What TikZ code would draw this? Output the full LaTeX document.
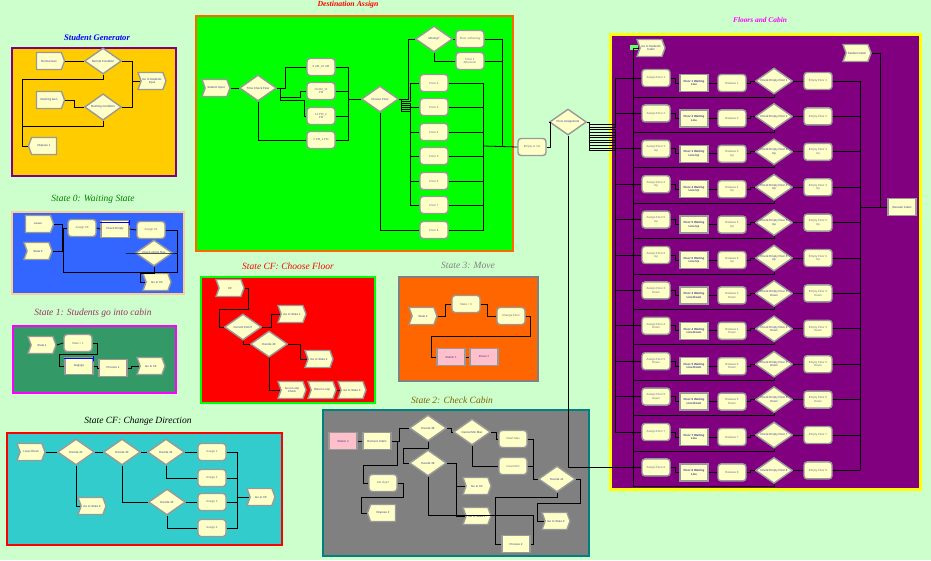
\documentclass[tikz,border=0pt]{standalone}
\usepackage{fontspec}
\usepackage{xcolor}
\newfontfamily\modfont{Liberation Sans}
\newfontfamily\titlefont{Liberation Serif}
\usetikzlibrary{shapes.geometric, shapes.symbols, arrows.meta, positioning}
\definecolor{bgfill}{HTML}{CCFFCC}
\definecolor{modfill}{HTML}{FFFFC8}
\definecolor{modedge}{HTML}{999999}
\definecolor{modtext}{HTML}{3A3A9A}
\definecolor{asgtext}{HTML}{6A6A8A}
\definecolor{pinkfill}{HTML}{FFC0CB}
\definecolor{sgfill}{HTML}{FFCC00}
\definecolor{sgedge}{HTML}{800080}
\definecolor{dafill}{HTML}{00FF00}
\definecolor{daedge}{HTML}{FF6600}
\definecolor{fcfill}{HTML}{800080}
\definecolor{fcedge}{HTML}{FFFF00}
\definecolor{fctitle}{HTML}{FF00FF}
\definecolor{s0fill}{HTML}{3366FF}
\definecolor{s0edge}{HTML}{FFCC99}
\definecolor{s1fill}{HTML}{339966}
\definecolor{s1edge}{HTML}{FF00FF}
\definecolor{cffill}{HTML}{FF0000}
\definecolor{cfedge}{HTML}{00FF00}
\definecolor{s3fill}{HTML}{FF6600}
\definecolor{s3edge}{HTML}{808080}
\definecolor{s2fill}{HTML}{808080}
\definecolor{s2edge}{HTML}{008080}
\definecolor{cdfill}{HTML}{33CCCC}
\definecolor{cdedge}{HTML}{FF0000}
\newcommand{\modsize}{\modfont\fontsize{2.9}{3.3}\selectfont}
\tikzstyle{module} = [draw=modedge, line width=1.4pt, fill=modfill, text=modtext,
  font=\modsize, align=center, inner sep=0.5pt, minimum width=28, minimum height=17]
\tikzstyle{create} = [module, signal, signal to=east, signal pointer angle=140]
\tikzstyle{route} = [module, signal, signal from=west, signal to=east, signal pointer angle=140]
\tikzstyle{dispose} = [module, signal, signal to=west, signal pointer angle=140]
\tikzstyle{assign} = [module, rounded corners=3pt, text=asgtext]
\tikzstyle{process} = [module, rectangle]
\tikzstyle{waitbox} = [module, rectangle, font=\modsize\bfseries]
\tikzstyle{pinkbox} = [module, rectangle, fill=pinkfill]
\tikzstyle{decide} = [module, diamond, minimum width=37, minimum height=26, inner sep=0]
\tikzstyle{queue} = [draw=blue, line width=0.8pt]
\tikzstyle{conn} = [line width=0.8pt]
\tikzstyle{panel} = [line width=2pt]
\tikzstyle{title} = [font=\titlefont\itshape\fontsize{9.5}{10}\selectfont]

\begin{document}
\begin{tikzpicture}[x=1pt, y=-1pt]
\fill[bgfill] (0,0) rectangle (931,560);
\useasboundingbox (0,0) rectangle (931,560);

% panels
\draw[panel, draw=sgedge, fill=sgfill] (12,48) rectangle (176,176);
\draw[panel, draw=daedge, fill=dafill] (196,16) rectangle (513,251);
\draw[panel, line width=3pt, draw=fcedge, fill=fcfill] (610,34) rectangle (920,489);
\draw[panel, draw=s0edge, fill=s0fill] (12,212) rectangle (184,294);
\draw[panel, draw=s1edge, fill=s1fill] (13,326) rectangle (176,393);
\draw[panel, draw=cfedge, fill=cffill] (201,277) rectangle (375,403);
\draw[panel, draw=s3edge, fill=s3fill] (399,277) rectangle (538,381);
\draw[panel, draw=s2edge, fill=s2fill] (323,410) rectangle (589,556);
\draw[panel, draw=cdedge, fill=cdfill] (7,433) rectangle (282,545);

% titles
\node[title, text=blue, font=\titlefont\itshape\bfseries\fontsize{8.6}{9}\selectfont] (tgen) at (97,38) {Student Generator};
\node[title, text=red, font=\titlefont\itshape\bfseries\fontsize{7.8}{8}\selectfont] (tdest) at (348,5) {Destination Assign};
\node[title, text=fctitle, font=\titlefont\itshape\bfseries\fontsize{7.4}{8}\selectfont] (tfloor) at (760,20) {Floors and Cabin};
\node[title, text=green!50!black] (tst0) at (93,199) {State 0: Waiting State};
\node[title, text={rgb,255:red,153;green,51;blue,102}] (tst1) at (93,313) {State 1: Students go into cabin};
\node[title, text=red] (tcf) at (288,266) {State CF: Choose Floor};
\node[title, text=gray] (tst3) at (468,265) {State 3: Move};
\node[title, text={rgb,255:red,128;green,96;blue,0}] (tst2) at (452,400) {State 2: Check Cabin};
\node[title, text=black] (tdir) at (138,421) {State CF: Change Direction};

% Student Generator
\node[create] (gen1) at (49,61) {Normal Gen};
\node[create] (gen2) at (49,100) {Rushing Gen};
\node[decide] (cond1) at (103,61) {Normal Condition};
\node[decide] (cond2) at (103,107) {Rushing Condition};
\node[route] (toinput) at (152,81) {Go to Students\\Input};
\node[dispose] (disp1) at (44,146) {Dispose 1};
\draw[conn] (gen1.east) -- (cond1.west);
\draw[conn] (gen2.east) -- ++(9,0) |- (cond2.west);
\draw[conn] (cond1.east) -- (132,61) |- (toinput.west);
\draw[conn] (cond2.east) -- (132,107) |- (toinput.west);
\draw[conn] (cond1.south) |- (22,79) |- (disp1.west);
\draw[conn] (cond2.south) |- (22,126);

% Destination Assign
\node[route] (sinput) at (216,88) {Student Input};
\node[decide] (timechk) at (258,88) {Time Check Flow};
\node[assign] (t1) at (321,67) {8 AM\_10 AM};
\node[assign] (t2) at (321,91) {10 AM\_12\\PM};
\node[assign] (t3) at (321,116) {12 PM\_2\\PM};
\node[assign] (t4) at (321,140) {2 PM\_4 PM};
\node[decide] (choose) at (380,99) {Choose Floor};
\node[decide] (moving) at (434,39) {Moving?};
\node[assign] (f1m) at (470,39) {Floor 1 Morning};
\node[assign] (f1a) at (470,61) {Floor 1\\Afternoon};
\foreach \i/\y in {2/83, 3/107, 4/132, 5/156, 6/181, 7/205, 8/230}
  \node[assign] (f\i) at (434,\y) {Floor \i};
\node[assign] (empty) at (532,147) {Empty or not};
\node[decide] (fassign) at (568,122) {Floor Assignment};
\draw[conn] (sinput.east) -- (timechk.west);
\draw[conn] (timechk.east) -- (285,88) |- (t1.west);
\draw[conn] (timechk.east) -- ++(3,0) |- (300,97) |- (t2.west);
\draw[conn] (timechk.east) -- ++(3,0) |- (304,100) |- (t3.west);
\draw[conn] (timechk.south) |- (t4.west);
\foreach \t in {t1,t2,t3,t4}
  \draw[conn] (\t.east) -| (348,99);
\draw[conn] (348,99) -- (choose.west);
\draw[conn] (choose.east) -- (408,99) |- (moving.west);
\foreach \i in {2,...,7}
  \draw[conn] (choose.east) -- (401,99) |- (410,97+2*\i) |- (f\i.west);
\draw[conn] (choose.south) |- (f8.west);
\draw[conn] (moving.east) -- (f1m.west);
\draw[conn] (moving.south) |- (f1a.west);
\foreach \i in {2,...,8}
  \draw[conn] (f\i.east) -| (483,146);
\draw[conn] (f1m.east) -| (502,146);
\draw[conn] (f1a.east) -- (502,61);
\draw[conn] (483,146) -- (empty.west);
\draw[conn] (empty.east) -- (550,147) |- (fassign.west);

% Floors and Cabin
\node[route] (tocabin) at (651,48) {Go to Students\\Cabin};
\fill[green!60] (630,45) rectangle (638,50);
\node[route] (stcabin) at (857,53) {Student Cabin};
\node[process] (elevator) at (902,207) {Elevator Cabin};
\foreach \i/\n/\lab/\lname in {1/1/1/Line, 2/2/2/Line, 3/3/{3\\Up}/{Line Up}, 4/4/{4\\Up}/{Line Up},
    5/5/{5\\Up}/{Line Up}, 6/6/{6\\Up}/{Line Up}, 7/3/{3\\Down}/{Line Down}, 8/4/{4\\Down}/{Line Down},
    9/5/{5\\Down}/{Line Down}, 10/6/{6\\Down}/{Line Down}, 11/7/7/Line, 12/8/8/Line} {
  \pgfmathsetmacro\c{78+35.4*(\i-1)}
  \node[assign] (a\i) at (656,\c) {Assign Floor \lab};
  \node[waitbox] (w\i) at (694,\c+5) {Floor \n{} Waiting\\\lname};
  \node[assign] (r\i) at (732,\c+5) {Release \lab};
  \node[decide, inner sep=-3pt] (d\i) at (774,\c+3) {Check Empty Floor \lab};
  \node[assign] (e\i) at (818,\c+3) {Empty Floor \lab};
  \draw[conn] (a\i.east) -- ++(5,0) |- (w\i.west);
  \draw[conn] (w\i.east) -- (r\i.west);
  \draw[conn] (r\i.east) -- ++(4,0) |- (d\i.west);
  \draw[conn] (d\i.east) -- (e\i.west);
  \draw[conn] (e\i.east) -- (860,\c+3);
  \draw[conn] (d\i.south) |- (633,\c+19);
}
\foreach \i in {1,...,11}
  \draw[conn] (fassign.east) -- (589,122) |- (615,122+2.6*\i) |- (a\i.west);
\draw[conn] (fassign.south) |- (a12.west);
\draw[conn] (tocabin.west) -| (633,486);
\draw[conn] (860,81) -- (860,470);
\draw[conn] (860,207) -- (elevator.west);
\draw[conn] (stcabin.east) -| (880,207);

% State 0
\node[create] (leave) at (38,224) {Leave};
\node[route] (st0) at (38,251) {State 0};
\node[assign] (as0a) at (82,228) {Assign 00};
\node[process] (chkempty) at (115,229) {Check Empty};
\node[assign] (as0b) at (151,230) {Assign 01};
\node[decide] (chk0) at (154,253) {Check empty floor};
\node[route] (tocf0) at (157,282) {Go to CF};
\draw[queue] ([yshift=-3pt]chkempty.north west) -- ([yshift=-3pt]chkempty.north east) -- ++(0,2.5) -- ++(0,-5);
\draw[conn] (leave.east) -- (62,224) |- (st0.east);
\draw[conn] (62,228) -- (as0a.west);
\draw[conn] (as0a.east) -- (chkempty.west);
\draw[conn] (chkempty.east) -- (as0b.west);
\draw[conn] (as0b.east) -- (177,230) |- (63,272) -- (63,228);
\draw[conn] ([xshift=-9pt]chk0.west) -- (chk0.east) -- (177,253);
\draw[conn] (chk0.south) |- (140,273) |- (tocf0.west);

% State 1
\node[route] (st1) at (42,345) {State 1};
\node[assign] (as1) at (78,343) {State = 1};
\node[process] (gogo) at (79,366) {Gogogo};
\node[process] (proc1) at (113,368) {Process 1};
\node[route] (tocf1) at (151,366) {Go to CF};
\draw[queue] ([yshift=-2pt]gogo.north west) -- ([yshift=-2pt]gogo.north east) -- ++(0,2.5) -- ++(0,-5);
\draw[conn] (st1.east) -- (as1.west);
\draw[conn] (as1.east) -| (97,354) -| (59,366) -- (gogo.west);
\draw[conn] (gogo.east) -- ++(4,0) |- (proc1.west);
\draw[conn] (proc1.east) -- ++(4,0) |- (tocf1.west);

% State CF: Choose Floor
\node[route] (cf) at (230,288) {CF};
\node[decide] (curfloor) at (243,327) {Current Floor?};
\node[route] (tost1) at (292,314) {Go to State 1};
\node[decide] (dec40) at (269,344) {Decide 40};
\node[route] (tost2) at (319,359) {Go to State 2};
\node[route] (toloop) at (292,390) {Go to Loop\\Check};
\node[route] (retloop) at (322,390) {Return Loop};
\node[route] (tost3) at (352,390) {Go to State 3};
\draw[conn] (cf.east) -| (248,309) -| (219,327) -- (curfloor.west);
\draw[conn] (curfloor.east) -- (271,327) |- (tost1.west);
\draw[conn] (curfloor.south) |- (dec40.west);
\draw[conn] (dec40.east) -- (300,344) |- (tost2.west);
\draw[conn] (dec40.south) |- (toloop.west);
\draw[conn] (retloop.east) -- (tost3.west);

% State 3: Move
\node[route] (st3) at (423,316) {State 3};
\node[assign] (as3) at (466,304) {State = 3};
\node[assign] (chgfloor) at (511,316) {Change Floor};
\node[pinkbox] (stat1) at (451,357) {Station 1};
\node[pinkbox] (route1) at (484,357) {Route 1};
\draw[conn] (st3.east) -- (445,316) |- (as3.west);
\draw[conn] (as3.east) -- (487,304) |- (chgfloor.west);
\draw[conn] (chgfloor.east) -- (530,316) |- (431,336) |- (stat1.west);
\draw[conn] (stat1.east) -- (route1.west);

% State 2: Check Cabin
\node[pinkbox] (stat2) at (343,441) {Station 2};
\node[process] (remcabin) at (377,441) {Remove Cabin};
\node[decide] (dec38) at (428,428) {Decide 38};
\node[decide] (dec39) at (428,463) {Decide 39};
\node[decide] (cancel) at (472,432) {Cancel Min Max};
\node[assign] (insmax) at (513,439) {Insert Max};
\node[assign] (insmin) at (513,466) {Insert Min};
\node[decide] (dec41) at (557,479) {Decide 41};
\node[assign] (setstep) at (383,483) {Set step?};
\node[dispose] (disp2) at (383,513) {Dispose 2};
\node[route] (tocf2) at (477,486) {Go to CF};
\node[route] (tost0a) at (477,516) {Go to State 0};
\node[route] (tost0b) at (556,521) {Go to State 0};
\node[process] (proc2) at (516,544) {Process 2};
\draw[conn] (stat2.east) -- (remcabin.west);
\draw[conn] (remcabin.east) -- (399,441) |- (dec38.west);
\draw[conn] (remcabin.east) ++(6,0) |- (363,465) |- (setstep.west);
\draw[conn] (dec38.south) |- (403,448) |- (dec39.west);
\draw[conn] (dec38.east) -- ++(4,0) |- (cancel.west);
\draw[conn] (cancel.east) -- ++(5,0) |- (insmax.west);
\draw[conn] (cancel.south) |- (insmin.west);
\draw[conn] (insmax.east) -- ++(6,0) |- (dec41.west);
\draw[conn] (insmin.east) -- ++(6,0);
\draw[conn] (dec41.east) -- (580,479) |- (537,503) |- (tost0b.west);
\draw[conn] (dec41.south) |- (495,497) |- (proc2.west);
\draw[conn] (dec39.east) -- (456,463) |- (tocf2.west);
\draw[conn] (dec39.south) |- (533,515) |- (proc2.east);
\draw[conn] (456,486) |- (tost0a.west);
\draw[conn] (setstep.east) -- (403,483) |- (361,497) |- (disp2.west);

% State CF: Change Direction
\node[route] (loopchk) at (31,452) {Loop Check};
\node[decide] (dec42) at (76,452) {Decide 42};
\node[decide] (dec43) at (122,452) {Decide 43};
\node[decide] (dec44) at (166,452) {Decide 44};
\node[decide] (dec45) at (167,502) {Decide 45};
\node[assign] (asg1) at (212,452) {Assign 1};
\node[assign] (asg2) at (212,478) {Assign 2};
\node[assign] (asg3) at (212,502) {Assign 3};
\node[assign] (asg4) at (212,528) {Assign 4};
\node[route] (tost0c) at (92,506) {Go to State 0};
\node[route] (tocf3) at (261,497) {Go to CF};
\draw[conn] (loopchk.east) -- (dec42.west);
\draw[conn] (dec42.east) -- (dec43.west);
\draw[conn] (dec43.east) -- (dec44.west);
\draw[conn] (dec44.east) -- (asg1.west);
\draw[conn] (dec44.south) |- (asg2.west);
\draw[conn] (dec42.south) |- (tost0c.west);
\draw[conn] (dec43.south) |- (dec45.west);
\draw[conn] (dec45.east) -- (asg3.west);
\draw[conn] (dec45.south) |- (asg4.west);
\foreach \a in {asg1,asg2,asg3,asg4}
  \draw[conn] (\a.east) -| (237,497);
\draw[conn] (237,497) -- (tocf3.west);
\end{tikzpicture}
\end{document}
